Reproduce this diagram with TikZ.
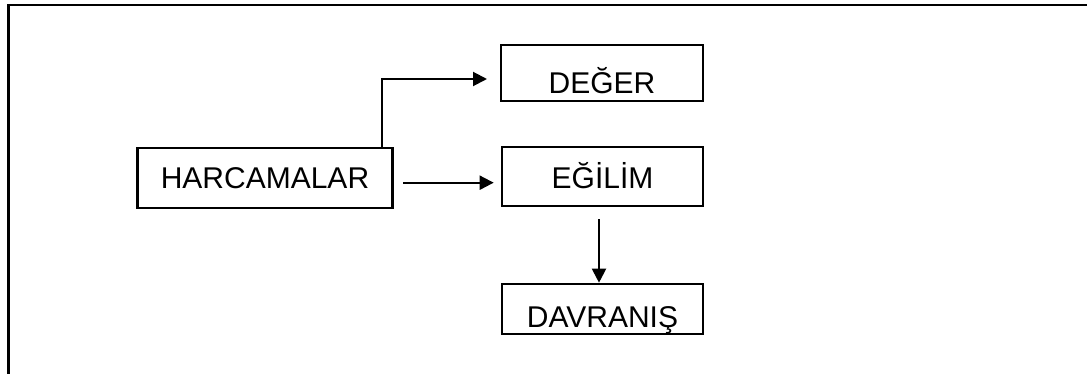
\documentclass[tikz,border=0pt]{standalone}
\usepackage{fontspec}
\setmainfont{Liberation Sans}
\usetikzlibrary{arrows.meta}
\tikzset{
  box/.style={draw, line width=2.6pt, inner sep=0pt, font=\fontsize{30}{34}\selectfont, text depth=0pt},
  conn/.style={line width=2pt, -{Triangle[length=14pt,width=14pt]}},
  frame/.style={line width=2.7pt}
}
\begin{document}
\begin{tikzpicture}[x=1pt,y=-1pt]
\useasboundingbox (0,0) rectangle (1087,374);
\draw[frame] (8.5,374) -- (8.5,5) -- (1087,5);
\node[box, minimum width=255pt, minimum height=60pt, text height=21.5pt] (harc) at (265,178) {HARCAMALAR};
\node[box, minimum width=201pt, minimum height=59pt, text height=24.5pt] (egil) at (602.5,176.5) {EĞİLİM};
\node[box, minimum width=202pt, minimum height=56pt, text height=41.5pt] (deger) at (602,73) {DEĞER};
\node[box, minimum width=201pt, minimum height=50pt, text height=36.5pt] (davr) at (602.5,309) {DAVRANIŞ};
\coordinate (bend) at (382,79);
\coordinate (dtip) at (487,79);
\coordinate (row) at (450,182.7);
\coordinate (col) at (599,250);
\draw[conn] (harc.north -| bend) -- (bend) -- (dtip);
\draw[conn, shorten <=9.5pt, shorten >=7pt] (harc.east |- row) -- (egil.west |- row);
\draw[conn, shorten <=12pt] (egil.south -| col) -- (davr.north -| col);
\end{tikzpicture}
\end{document}
